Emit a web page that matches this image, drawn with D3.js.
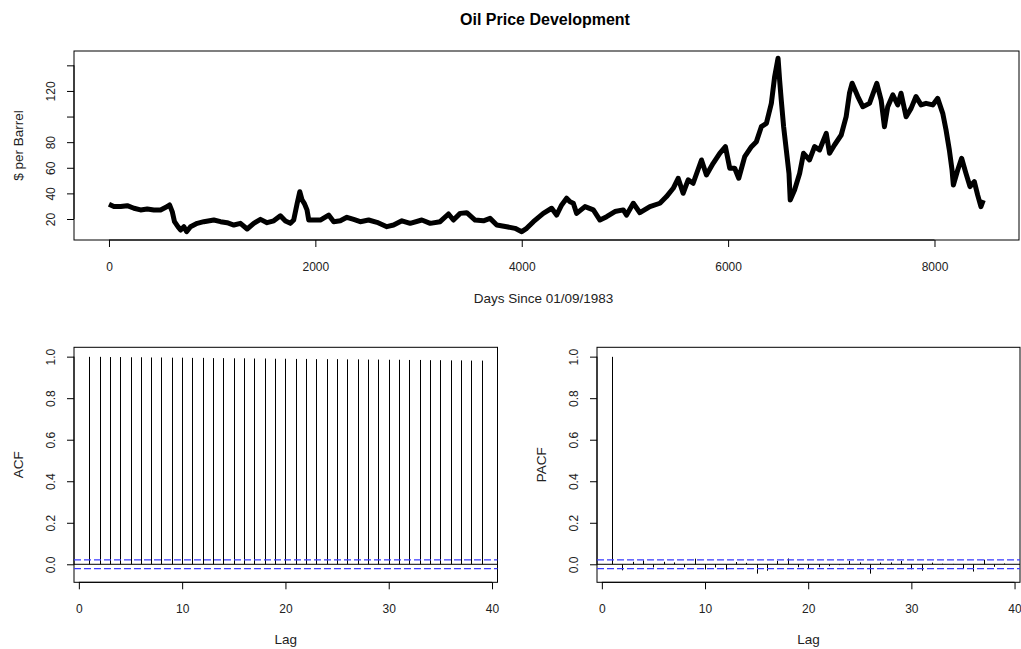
<!DOCTYPE html>
<html>
<head>
<meta charset="utf-8">
<script src="https://cdn.jsdelivr.net/npm/d3@7"></script>
<style>
  body { margin: 0; background: #fff; }
  svg { display: block; font-family: "Liberation Sans", Arial, sans-serif; }
  text { fill: #222; }
</style>
</head>
<body>
<svg width="1021" height="649"></svg>
<script>
// oil price (day, $ per barrel)
const days = [0, 48, 113, 177, 242, 306, 371, 435, 500, 565, 587, 613, 635, 668, 694, 726, 752, 790, 855, 919,
  1016, 1081, 1145, 1210, 1274, 1339, 1403, 1468, 1532, 1597, 1661, 1710, 1758, 1790, 1823, 1849, 1871, 1894, 1919, 1936,
  1984, 2048, 2129, 2178, 2242, 2306, 2371, 2435, 2516, 2597, 2693, 2758, 2839, 2919, 3032, 3113, 3209, 3290, 3338, 3403,
  3467, 3548, 3629, 3693, 3758, 3854, 3935, 4000, 4048, 4113, 4209, 4290, 4338, 4387, 4435, 4468, 4500, 4532, 4613, 4694,
  4758, 4823, 4903, 4984, 5016, 5081, 5145, 5242, 5339, 5403, 5468, 5516, 5564, 5613, 5661, 5742, 5790, 5855, 5919, 5974,
  6016, 6064, 6103, 6161, 6226, 6274, 6322, 6371, 6419, 6451, 6484, 6499, 6515, 6538, 6564, 6590, 6602, 6644, 6693, 6731,
  6789, 6838, 6886, 6951, 6983, 7031, 7096, 7144, 7176, 7202, 7257, 7305, 7370, 7441, 7483, 7515, 7547, 7596, 7644, 7676,
  7725, 7773, 7821, 7870, 7918, 7983, 8031, 8080, 8112, 8144, 8170, 8183, 8225, 8263, 8305, 8344, 8386, 8418, 8450, 8473]
const prices = [31.5, 29.7, 29.7, 30.4, 28.4, 27.1, 27.8, 27.1, 27.1, 29.7, 31.0, 25.8, 17.9, 14.0, 11.4, 14.0, 10.1, 14.0, 16.6, 17.9,
  19.2, 17.9, 17.1, 15.3, 16.6, 12.2, 16.6, 19.7, 17.1, 18.6, 22.5, 18.4, 16.6, 19.2, 32.0, 41.3, 34.9, 32.0, 27.1, 19.2,
  19.2, 19.2, 23.1, 17.9, 18.6, 21.3, 19.7, 17.9, 19.2, 17.4, 14.0, 15.3, 18.6, 16.6, 19.2, 16.6, 17.9, 23.9, 19.2, 24.4,
  24.9, 19.2, 18.6, 20.5, 15.3, 14.0, 12.7, 10.1, 12.7, 17.9, 24.4, 28.4, 23.1, 31.0, 36.2, 33.5, 32.3, 24.4, 29.7, 27.1,
  19.2, 21.8, 25.8, 27.1, 23.1, 32.3, 24.9, 29.7, 32.3, 37.5, 44.0, 51.8, 40.1, 50.5, 47.9, 66.1, 54.4, 63.5, 71.3, 76.5,
  59.6, 59.6, 51.8, 68.7, 76.5, 80.4, 92.1, 94.7, 110.3, 131.2, 145.5, 128.6, 112.9, 92.1, 73.9, 55.6, 34.8, 42.7, 55.6, 71.3,
  66.1, 76.5, 73.9, 86.9, 71.3, 77.8, 85.6, 99.9, 118.2, 126.0, 115.6, 107.7, 110.3, 126.0, 112.9, 92.1, 107.7, 116.9, 109.1, 118.2,
  99.9, 106.4, 115.6, 109.1, 110.3, 109.1, 114.2, 102.5, 89.5, 73.9, 58.3, 46.6, 58.3, 67.4, 55.6, 45.3, 49.2, 38.8, 29.7, 34.8]

const lags = d3.range(1, 40)
const acfValues = [0.999, 0.999, 0.998, 0.998, 0.997, 0.997, 0.996, 0.996, 0.995, 0.995, 0.994, 0.994, 0.993, 0.993,
  0.992, 0.992, 0.991, 0.991, 0.990, 0.990, 0.989, 0.989, 0.988, 0.988, 0.988, 0.987, 0.987, 0.986, 0.986, 0.985,
  0.985, 0.984, 0.984, 0.983, 0.983, 0.982, 0.982, 0.981, 0.981]
const pacfValues = [0.999, -0.029, 0.012, 0.019, -0.015, 0.012, 0.009, -0.014, 0.027, -0.025, -0.015, -0.026, 0.011,
  0.007, -0.045, -0.031, 0.017, 0.028, -0.014, -0.018, -0.014, -0.009, -0.004, 0.016, 0.009, -0.045, 0.008, 0.009,
  0.016, -0.024, -0.031, 0.008, 0.003, 0.002, -0.019, -0.035, 0.022, -0.012, 0.004]
const ciBound = 0.0213

const priceTicks = [20, 40, 60, 80, 100, 120, 140]
const priceLabels = [20, 40, 60, 80, 120]
const dayTicks = [0, 2000, 4000, 6000, 8000]
const corTicks = [0, 0.2, 0.4, 0.6, 0.8, 1.0]
const lagTicks = [0, 10, 20, 30, 40]

const svg = d3.select('svg')
const tickLen = 7

// panel helper: box, axes, labels (R base graphics look)
const drawPanel = (p) => {
    const g = svg.append('g')
    g.append('rect')
        .attr('x', p.x.range()[0]).attr('y', p.y.range()[1])
        .attr('width', p.x.range()[1] - p.x.range()[0])
        .attr('height', p.y.range()[0] - p.y.range()[1])
        .attr('fill', 'none').attr('stroke', '#000').attr('stroke-width', 1)

    const xAxis = d3.axisBottom(p.x).tickValues(p.xTicks).tickSize(tickLen)
        .tickFormat(d3.format('d'))
    const yAxis = d3.axisLeft(p.y).tickValues(p.yTicks).tickSize(tickLen)
        .tickFormat(d => p.yLabels.includes(d) ? p.yFormat(d) : '')

    const xg = g.append('g')
        .attr('transform', `translate(0, ${p.y.range()[0]})`)
        .call(xAxis)
    xg.select('.domain').attr('d', `M${p.x(p.xTicks[0])},0H${p.x(p.xTicks[p.xTicks.length - 1])}`)
    const yg = g.append('g')
        .attr('transform', `translate(${p.x.range()[0]}, 0)`)
        .call(yAxis)
    yg.select('.domain').attr('d', `M0,${p.y(p.yTicks[0])}V${p.y(p.yTicks[p.yTicks.length - 1])}`)

    g.selectAll('.tick line').attr('stroke', '#000')
    g.selectAll('.domain').attr('stroke', '#000')
    g.selectAll('.tick text').attr('font-size', 12).attr('fill', '#222')
        .attr('font-family', '"Liberation Sans", Arial, sans-serif')
    xg.selectAll('.tick text').attr('y', 31).attr('dy', 0)
    yg.selectAll('.tick text')
        .attr('text-anchor', 'middle')
        .attr('dy', 0)
        .attr('x', 0).attr('y', 0)
        .attr('transform', 'rotate(-90) translate(0, -19)')

    g.append('text')
        .attr('x', (p.x.range()[0] + p.x.range()[1]) / 2 + p.xLabelShift)
        .attr('y', p.xLabelY)
        .attr('text-anchor', 'middle').attr('font-size', 13.5)
        .text(p.xLabel)
    g.append('text')
        .attr('transform', `translate(${p.yLabelX}, ${(p.y.range()[0] + p.y.range()[1]) / 2}) rotate(-90)`)
        .attr('text-anchor', 'middle').attr('font-size', 13.5)
        .text(p.yLabel)
    return g
}

// top panel: price series
const xDays = d3.scaleLinear().domain([-339, 8819]).range([74, 1019])
const yPrice = d3.scaleLinear().domain([3.6, 151.2]).range([240, 51])

drawPanel({
    x: xDays, y: yPrice, xTicks: dayTicks, yTicks: priceTicks, yLabels: priceLabels,
    yFormat: d3.format('d'), xLabel: 'Days Since 01/09/1983', xLabelY: 303, xLabelShift: -3,
    yLabel: '$ per Barrel', yLabelX: 23
})

const priceData = days.map((d, i) => ({ day: d, price: prices[i] }))
const line = d3.line().x(d => xDays(d.day)).y(d => yPrice(d.price))
svg.append('path')
    .datum(priceData)
    .attr('d', line)
    .attr('fill', 'none')
    .attr('stroke', '#000')
    .attr('stroke-width', 5)
    .attr('stroke-linejoin', 'round')

svg.append('text')
    .attr('x', 545).attr('y', 25)
    .attr('text-anchor', 'middle')
    .attr('font-size', 16).attr('font-weight', 'bold')
    .style('fill', '#000')
    .text('Oil Price Development')

// correlogram panels
const drawCorrelogram = (left, right, values, label) => {
    const x = d3.scaleLinear().domain([-0.47, 40.53]).range([left, right])
    const y = d3.scaleLinear().domain([-0.0867, 1.045]).range([582.3, 347.3])
    const g = drawPanel({
        x, y, xTicks: lagTicks, yTicks: corTicks, yLabels: corTicks,
        yFormat: d3.format('.1f'), xLabel: 'Lag', xLabelY: 644, xLabelShift: 0,
        yLabel: label, yLabelX: left - 51
    })
    g.selectAll('.spike')
        .data(lags)
        .enter()
        .append('line')
        .attr('class', 'spike')
        .attr('x1', d => Math.round(x(d)) + 0.5).attr('x2', d => Math.round(x(d)) + 0.5)
        .attr('y1', y(0))
        .attr('y2', (d, i) => y(values[i]))
        .attr('stroke', '#000').attr('stroke-width', 1)
    g.append('line')
        .attr('x1', left).attr('x2', right)
        .attr('y1', y(0)).attr('y2', y(0))
        .attr('stroke', '#000').attr('stroke-width', 1)
    g.selectAll('.ci')
        .data([ciBound, -ciBound])
        .enter()
        .append('line')
        .attr('class', 'ci')
        .attr('x1', left).attr('x2', right)
        .attr('y1', d => y(d)).attr('y2', d => y(d))
        .attr('stroke', '#3a3aff').attr('stroke-width', 1.2)
        .attr('stroke-dasharray', '7,3')
}

drawCorrelogram(74, 497.5, acfValues, 'ACF')
drawCorrelogram(597, 1020, pacfValues, 'PACF')
</script>
</body>
</html>
